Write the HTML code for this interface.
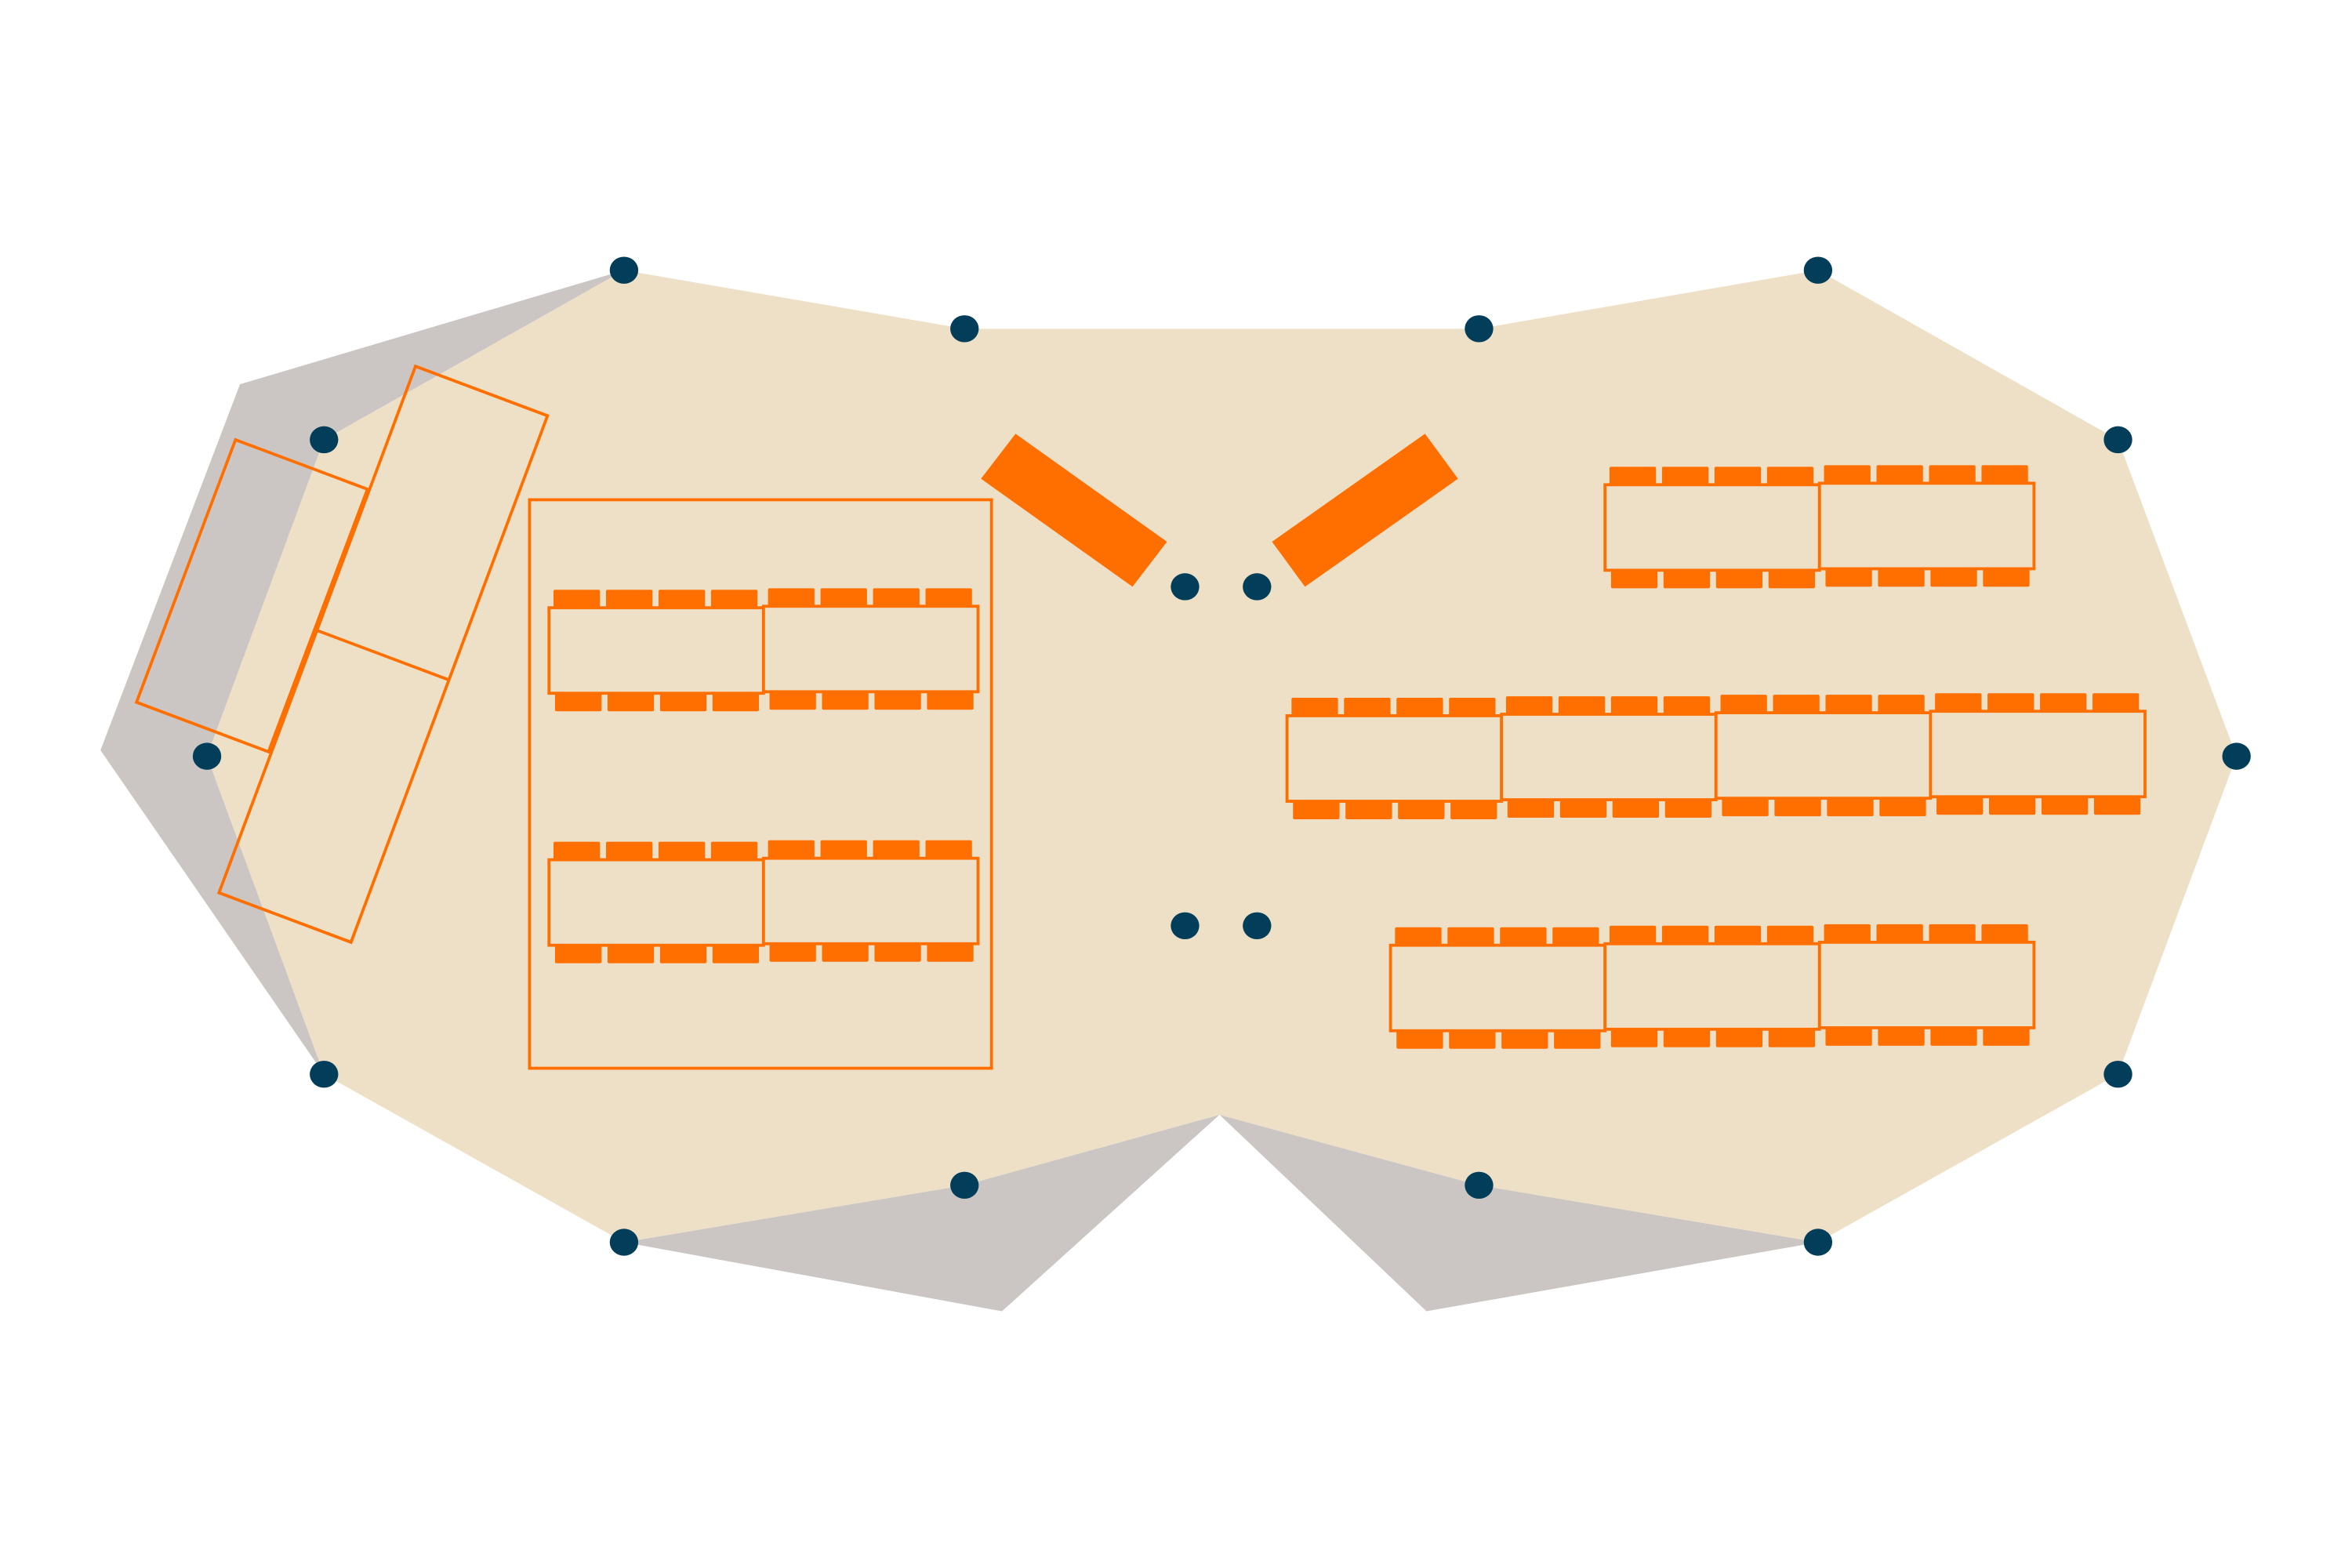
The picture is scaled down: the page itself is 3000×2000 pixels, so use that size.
<!DOCTYPE html>
<html><head><style>html,body{margin:0;padding:0;background:#fff}svg{display:block}</style></head>
<body>
<svg width="3000" height="2000" viewBox="0 0 1568 1045" xmlns="http://www.w3.org/2000/svg">
<defs>
<g id="u">
<rect x="3" y="-12" width="31" height="13" rx="1" fill="#FF6F00"/>
<rect x="38" y="-12" width="31" height="13" rx="1" fill="#FF6F00"/>
<rect x="73" y="-12" width="31" height="13" rx="1" fill="#FF6F00"/>
<rect x="108" y="-12" width="31" height="13" rx="1" fill="#FF6F00"/>
<rect x="4" y="56" width="31" height="13" rx="1" fill="#FF6F00"/>
<rect x="39" y="56" width="31" height="13" rx="1" fill="#FF6F00"/>
<rect x="74" y="56" width="31" height="13" rx="1" fill="#FF6F00"/>
<rect x="109" y="56" width="31" height="13" rx="1" fill="#FF6F00"/>
<rect x="0" y="0" width="143" height="57" fill="#EEE0C6" stroke="#FF6F00" stroke-width="2"/>
</g>
</defs>
<g fill="#CBC6C3">
<polygon points="416,180 160,256 67,500 216,716 138,504 216,293"/>
<polygon points="416,828 668,874 813,743 643,790"/>
<polygon points="813,743 951,874 1212,828 986,790"/>
</g>
<polygon fill="#EEE0C6" points="416,180 643,219 986,219 1212,180 1412,293 1491,504 1412,716 1212,828 986,790 813,743 643,790 416,828 216,716 138,504 216,293"/>
<g fill="none" stroke="#FF6F00" stroke-width="2">
<polygon points="157,293 245,326 179,501 91,468"/>
<polygon points="277,244 365,277 234,628 146,595"/>
<line x1="211" y1="420" x2="299" y2="453"/>
<rect x="353" y="333" width="308" height="379"/>
</g>
<g fill="#FF6F00">
<polygon points="677,289 778,361 755,391 654,319"/>
<polygon points="950,289 972,319 870,391 848,361"/>
</g>
<use href="#u" x="366" y="405"/><use href="#u" x="509" y="404"/>
<use href="#u" x="366" y="573"/><use href="#u" x="509" y="572"/>
<use href="#u" x="1070" y="323"/><use href="#u" x="1213" y="322"/>
<use href="#u" x="858" y="477"/><use href="#u" x="1001" y="476"/><use href="#u" x="1144" y="475"/><use href="#u" x="1287" y="474"/>
<use href="#u" x="927" y="630"/><use href="#u" x="1070" y="629"/><use href="#u" x="1213" y="628"/>
<g fill="#023D5A">
<ellipse cx="416" cy="180" rx="9.5" ry="9"/>
<ellipse cx="643" cy="219" rx="9.5" ry="9"/>
<ellipse cx="986" cy="219" rx="9.5" ry="9"/>
<ellipse cx="1212" cy="180" rx="9.5" ry="9"/>
<ellipse cx="1412" cy="293" rx="9.5" ry="9"/>
<ellipse cx="1491" cy="504" rx="9.5" ry="9"/>
<ellipse cx="1412" cy="716" rx="9.5" ry="9"/>
<ellipse cx="1212" cy="828" rx="9.5" ry="9"/>
<ellipse cx="986" cy="790" rx="9.5" ry="9"/>
<ellipse cx="643" cy="790" rx="9.5" ry="9"/>
<ellipse cx="416" cy="828" rx="9.5" ry="9"/>
<ellipse cx="216" cy="716" rx="9.5" ry="9"/>
<ellipse cx="138" cy="504" rx="9.5" ry="9"/>
<ellipse cx="216" cy="293" rx="9.5" ry="9"/>
<ellipse cx="790" cy="391" rx="9.5" ry="9"/>
<ellipse cx="838" cy="391" rx="9.5" ry="9"/>
<ellipse cx="790" cy="617" rx="9.5" ry="9"/>
<ellipse cx="838" cy="617" rx="9.5" ry="9"/>
</g>
</svg>
</body></html>
